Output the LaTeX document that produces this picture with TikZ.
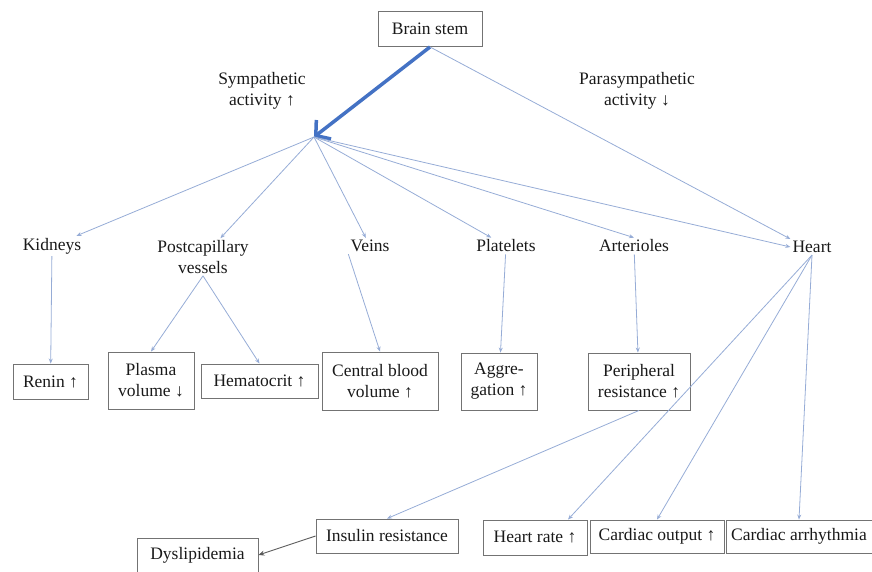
\documentclass[tikz,border=0pt]{standalone}
\usepackage{fontspec}
\setmainfont{Liberation Serif}
\usepackage{tikz}
\usetikzlibrary{arrows.meta}
\definecolor{linkblue}{RGB}{150,172,214}
\definecolor{strongblue}{RGB}{68,114,196}

\begin{document}
\begin{tikzpicture}[x=1pt, y=-1pt,
        every node/.style={font=\fontsize{17.5}{21}\selectfont, text=black!90, align=center, inner sep=2pt},
        box/.style={draw=black!55, line width=0.9pt},
        link/.style={linkblue, line width=0.8pt, -{Stealth[length=5pt,width=4pt]}}]

        \useasboundingbox (0,0) rectangle (872,571);

        \node[box, minimum width=104, minimum height=35] (brain) at (430,29) {Brain stem};
        \node (symp) at (262,91) {Sympathetic\\activity ↑};
        \node (para) at (637,91) {Parasympathetic\\activity ↓};
        \coordinate (hub) at (314,137);

        % Organs
        \node (kid) at (52,246) {Kidneys};
        \node (post) at (203,257) {Postcapillary\\vessels};
        \node (veins) at (370,246) {Veins};
        \node (plat) at (506,246) {Platelets};
        \node (art) at (634,246) {Arterioles};
        \node (heart) at (812,247) {Heart};

        % Effects
        \node[box, minimum width=75, minimum height=35] (renin) at (50.5,381.5) {Renin ↑};
        \node[box, minimum width=86, minimum height=57] (plasma) at (151,380.5) {Plasma\\volume ↓};
        \node[box, minimum width=117, minimum height=34] (hemat) at (259.5,381) {Hematocrit ↑};
        \node[box, minimum width=116, minimum height=58] (cbv) at (380,381) {Central blood\\volume ↑};
        \node[box, minimum width=76, minimum height=57] (aggr) at (499,381.5) {Aggre-\\gation ↑};
        \node[box, minimum width=102, minimum height=57] (periph) at (639,381.5) {Peripheral\\resistance ↑};

        % Bottom row
        \node[box, minimum width=142, minimum height=34] (insulin) at (387,536) {Insulin resistance};
        \node[box, minimum width=121, minimum height=34] (dys) at (197.5,555) {Dyslipidemia};
        \node[box, minimum width=104, minimum height=35] (hrate) at (535,537.5) {Heart rate ↑};
        \node[box, minimum width=134, minimum height=33] (cout) at (657,536.5) {Cardiac output ↑};
        \node[box, minimum width=146, minimum height=33] (arrhy) at (799,536.5) {Cardiac arrhythmia};

        % Autonomic activity
        \draw[strongblue, line width=3.5pt, -{Straight Barb[length=10pt,width=24pt]}] (brain.south) -- (hub);
        \draw[link] (brain.south) -- (heart.north west);

        % Sympathetic targets
        \foreach \t in {kid,post,veins,plat}
            \draw[link] (hub) -- (\t);
        \draw[link] (hub) -- (art.north);
        \draw[link] (hub) -- (heart.west);

        \draw[link] (kid) -- (renin);
        \draw[link] (post.south) -- (plasma.north);
        \draw[link] (post.south) -- (hemat.north);
        \draw[link] (veins.south west) -- (cbv.north);
        \draw[link] (plat) -- (aggr);
        \draw[link] (art) -- (periph);

        \draw[link] (heart.south) -- ([xshift=33pt]hrate.north);
        \draw[link] (heart.south) -- (cout.north);
        \draw[link] (heart.south) -- (arrhy.north);
        \draw[link] (periph.south) -- (insulin.north);
        \draw[black!65, line width=0.9pt, -{Stealth[length=6pt,width=5pt]}] (insulin.west) -- (dys.east);
    \end{tikzpicture}
\end{document}
